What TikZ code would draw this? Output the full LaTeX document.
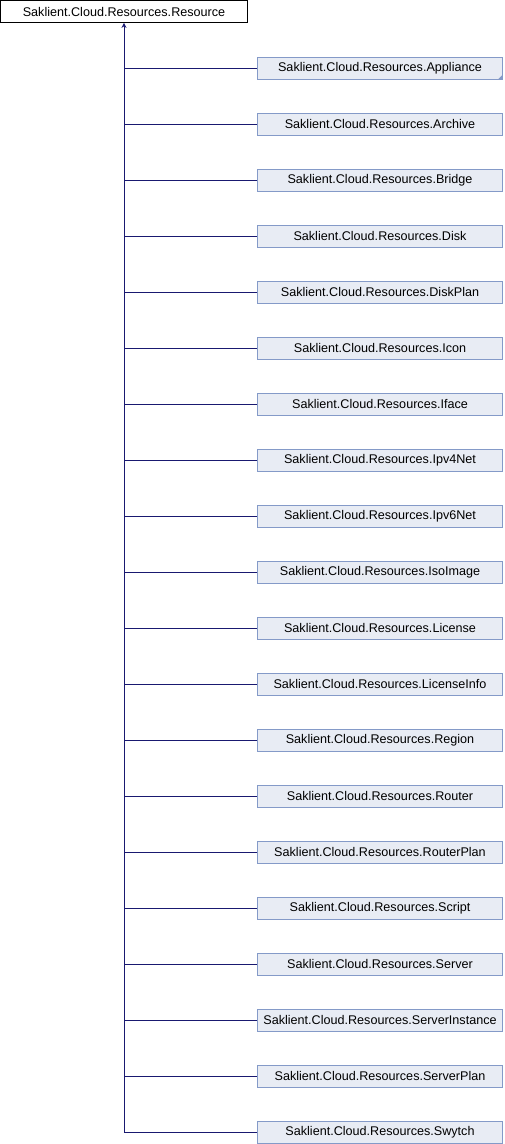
\documentclass[tikz,border=0pt]{standalone}
\usepackage{fontspec}
\setmainfont{Liberation Sans}
\usetikzlibrary{arrows.meta,positioning}
\definecolor{doxyline}{RGB}{25,25,112}
\definecolor{doxyfill}{RGB}{232,236,244}
\definecolor{doxyedge}{RGB}{132,154,200}
\tikzset{
  baseclass/.style={rectangle, draw=black, fill=white, line width=0.8pt,
                    minimum width=247pt, minimum height=22pt, inner sep=0pt,
                    font=\fontsize{12.6pt}{14pt}\selectfont},
  subclass/.style ={rectangle, draw=doxyedge, fill=doxyfill, line width=0.8pt,
                    minimum width=245pt, minimum height=22pt, inner sep=0pt,
                    font=\fontsize{12.6pt}{14pt}\selectfont},
  inhlink/.style  ={doxyline, line width=0.8pt},
  inharrow/.style ={inhlink, -{Stealth[length=5pt,width=5pt]}},
  morecorner/.style={fill=doxyedge},
}
\begin{document}
\begin{tikzpicture}[x=1pt, y=-1pt]
  \useasboundingbox (0,0) rectangle (504,1144);
  \node[baseclass] (res) at (124,11.5) {Saklient.Cloud.Resources.Resource};
  \foreach \i/\name in {1/Appliance,2/Archive,3/Bridge,4/Disk,5/DiskPlan,
      6/Icon,7/Iface,8/Ipv4Net,9/Ipv6Net,10/IsoImage,11/License,
      12/LicenseInfo,13/Region,14/Router,15/RouterPlan,16/Script,
      17/Server,18/ServerInstance,19/ServerPlan,20/Swytch} {
    \node[subclass] (c\i) at (380,{68+(\i-1)*56}) {Saklient.Cloud.Resources.\name};
  }
  % hint that Appliance has subclasses of its own
  \fill[morecorner] (c1.south east) -- ++(-5,0) -- ++(5,-5) -- cycle;
  \foreach \i in {1,...,19} {
    \draw[inhlink] (c\i.west) -- (c\i.west -| res.south);
  }
  \draw[inharrow] (c20.west) -| (res.south);
\end{tikzpicture}
\end{document}
